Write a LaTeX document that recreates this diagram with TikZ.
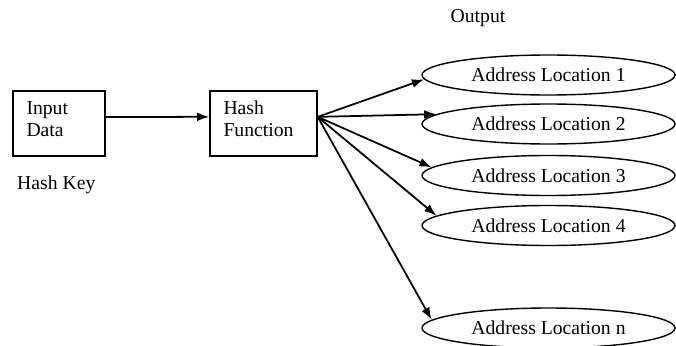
\documentclass[tikz,border=0pt]{standalone}
\usepackage{fontspec}
\setmainfont{Liberation Serif}
\usetikzlibrary{arrows.meta,shapes.geometric}

\begin{document}
\begin{tikzpicture}[
    every node/.style={font=\fontsize{11.2}{12.5}\selectfont},
    box/.style={draw, line width=0.8pt, minimum height=1.3cm, align=left, inner xsep=0.27cm, text depth=0.62cm},
    loc/.style={draw, ellipse, line width=0.8pt, minimum width=5.06cm, minimum height=0.8cm, inner sep=0pt},
    link/.style={line width=1pt, -{Latex[length=7pt, width=5pt]}},
]
\def\locx{10.97}

\useasboundingbox (0,0) rectangle (13.52,-6.9);

\node[box, text width=1.3cm] (data) at (1.18,-2.47) {Input\\Data};
\node[box, text width=1.6cm] (hash) at (5.27,-2.47) {Hash\\Function};
\node[anchor=west] (key) at (0.22,-3.7) {Hash Key};
\node (output) at (9.56,-0.36) {Output};

\foreach \row/\lab/\ypos in {
    1/1/-1.5,
    2/2/-2.48,
    3/3/-3.51,
    4/4/-4.51,
    5/n/-6.56} {
    \node[loc] (loc\row) at (\locx, \ypos) {Address Location \lab};
}

\draw[link] (data.8) -- (hash.173);
\foreach \row/\ang in {1/182, 2/175, 3/176, 4/175, 5/176} {
    \draw[link] (hash.7) -- (loc\row.\ang);
}
\end{tikzpicture}
\end{document}
